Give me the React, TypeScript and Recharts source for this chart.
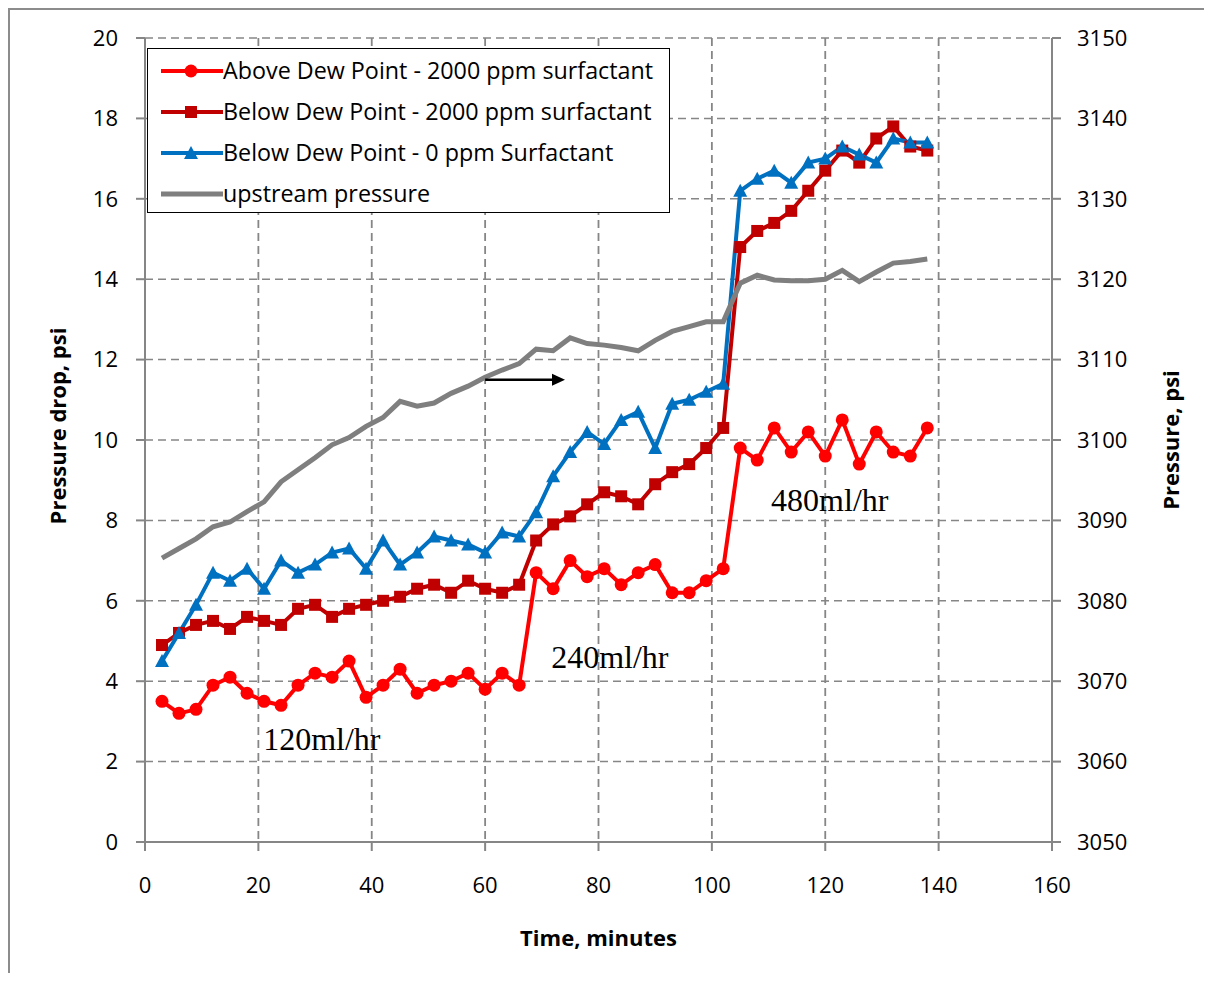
import React from "react";
import {
  LineChart,
  Line,
  XAxis,
  YAxis,
  CartesianGrid,
  Label,
  ReferenceLine,
  ReferenceDot,
} from "recharts";

const minutes = [
  3, 6, 9, 12, 15, 18, 21, 24, 27, 30, 33, 36, 39, 42, 45, 48, 51, 54, 57, 60, 63, 66,
  69, 72, 75, 78, 81, 84, 87, 90, 93, 96, 99, 102, 105, 108, 111, 114, 117, 120, 123,
  126, 129, 132, 135, 138,
];

const aboveDew2000 = [
  3.5, 3.2, 3.3, 3.9, 4.1, 3.7, 3.5, 3.4, 3.9, 4.2, 4.1, 4.5, 3.6, 3.9, 4.3, 3.7, 3.9, 4.0,
  4.2, 3.8, 4.2, 3.9, 6.7, 6.3, 7.0, 6.6, 6.8, 6.4, 6.7, 6.9, 6.2, 6.2, 6.5, 6.8, 9.8, 9.5,
  10.3, 9.7, 10.2, 9.6, 10.5, 9.4, 10.2, 9.7, 9.6, 10.3,
];

const belowDew2000 = [
  4.9, 5.2, 5.4, 5.5, 5.3, 5.6, 5.5, 5.4, 5.8, 5.9, 5.6, 5.8, 5.9, 6.0, 6.1, 6.3, 6.4, 6.2,
  6.5, 6.3, 6.2, 6.4, 7.5, 7.9, 8.1, 8.4, 8.7, 8.6, 8.4, 8.9, 9.2, 9.4, 9.8, 10.3, 14.8,
  15.2, 15.4, 15.7, 16.2, 16.7, 17.2, 16.9, 17.5, 17.8, 17.3, 17.2,
];

const belowDew0 = [
  4.5, 5.2, 5.9, 6.7, 6.5, 6.8, 6.3, 7.0, 6.7, 6.9, 7.2, 7.3, 6.8, 7.5, 6.9, 7.2, 7.6, 7.5,
  7.4, 7.2, 7.7, 7.6, 8.2, 9.1, 9.7, 10.2, 9.9, 10.5, 10.7, 9.8, 10.9, 11.0, 11.2, 11.4,
  16.2, 16.5, 16.7, 16.4, 16.9, 17.0, 17.3, 17.1, 16.9, 17.5, 17.4, 17.4,
];

const upstreamPressure = [
  3085.3, 3086.5, 3087.7, 3089.2, 3089.8, 3091.1, 3092.3, 3094.8, 3096.3, 3097.8, 3099.4,
  3100.3, 3101.7, 3102.8, 3104.8, 3104.2, 3104.6, 3105.8, 3106.7, 3107.8, 3108.7, 3109.5,
  3111.3, 3111.1, 3112.7, 3112.0, 3111.8, 3111.5, 3111.1, 3112.4, 3113.5, 3114.1, 3114.7,
  3114.7, 3119.5, 3120.5, 3119.9, 3119.8, 3119.8, 3120.0, 3121.1, 3119.7, 3120.9, 3122.0,
  3122.2, 3122.5,
];

const xTicks = [0, 20, 40, 60, 80, 100, 120, 140, 160];
const leftTicks = [0, 2, 4, 6, 8, 10, 12, 14, 16, 18, 20];
const rightTicks = [3050, 3060, 3070, 3080, 3090, 3100, 3110, 3120, 3130, 3140, 3150];

const rateNotes = [
  { x: 31.2, y: 2.55, text: "120ml/hr" },
  { x: 82, y: 4.6, text: "240ml/hr" },
  { x: 120.8, y: 8.5, text: "480ml/hr" },
];

const RED = "#FF0000";
const DARK_RED = "#C00000";
const BLUE = "#0070C0";
const GRAY = "#7F7F7F";
const AXIS = "#868686";
const FONT = '"Open Sans", sans-serif';

const data = minutes.map((t, i) => ({
  t,
  above: aboveDew2000[i],
  below2000: belowDew2000[i],
  below0: belowDew0[i],
  upstream: upstreamPressure[i],
}));

const circleDot = (p: any) =>
  p.cx == null ? null : (
    <circle key={`c-${p.index}`} cx={p.cx} cy={p.cy} r={6.5} fill={RED} />
  );

const squareDot = (p: any) =>
  p.cx == null ? null : (
    <rect key={`s-${p.index}`} x={p.cx - 6} y={p.cy - 6} width={12} height={12} fill={DARK_RED} />
  );

const triangleDot = (p: any) =>
  p.cx == null ? null : (
    <polygon
      key={`t-${p.index}`}
      points={`${p.cx},${p.cy - 7} ${p.cx + 7},${p.cy + 6} ${p.cx - 7},${p.cy + 6}`}
      fill={BLUE}
    />
  );

const legendItems = [
  { label: "Above Dew Point - 2000 ppm surfactant", color: RED, marker: "circle" },
  { label: "Below Dew Point - 2000 ppm surfactant", color: DARK_RED, marker: "square" },
  { label: "Below Dew Point - 0 ppm Surfactant", color: BLUE, marker: "triangle" },
  { label: "upstream pressure", color: GRAY, marker: "none" },
];

const ChartLegend = () => (
  <div
    style={{
      position: "absolute",
      left: 141,
      top: 40,
      border: "1.5px solid #000",
      background: "#fff",
      width: 523,
      height: 165,
      boxSizing: "border-box",
      paddingTop: 1,
      fontFamily: FONT,
      fontSize: 23.3,
      color: "#000",
    }}
  >
    {legendItems.map((item) => (
      <div key={item.label} style={{ display: "flex", alignItems: "center", height: 41 }}>
        <svg width={75} height={20} style={{ flex: "none" }}>
          <line x1={13} y1={10} x2={75} y2={10} stroke={item.color} strokeWidth={item.marker === "none" ? 5 : 4} />
          {item.marker === "circle" && <circle cx={43} cy={10} r={6.5} fill={item.color} />}
          {item.marker === "square" && <rect x={37} y={4} width={12} height={12} fill={item.color} />}
          {item.marker === "triangle" && <polygon points="43,3 50,16 36,16" fill={item.color} />}
        </svg>
        <span style={{ whiteSpace: "nowrap", lineHeight: "41px" }}>{item.label}</span>
      </div>
    ))}
  </div>
);

const tickStyle = { fill: "#000", fontSize: 22, fontFamily: FONT };

const axisTitle = (text: string, dx: number, y: number, rotate: boolean) => (p: any) => {
  const vb = p.viewBox;
  const x = rotate ? vb.x + dx : vb.x + vb.width / 2;
  const yy = rotate ? y : vb.y + y;
  return (
    <text
      x={x}
      y={yy}
      transform={rotate ? `rotate(-90, ${x}, ${yy})` : undefined}
      textAnchor="middle"
      dominantBaseline="central"
      fontFamily={FONT}
      fontWeight="bold"
      fontSize={22}
      fill="#000"
    >
      {text}
    </text>
  );
};

export default function App() {
  return (
    <div style={{ position: "relative", width: 1206, height: 965, marginLeft: -2 }}>
      <div style={{ position: "absolute", left: 0, top: 0 }}>
        <LineChart
          width={1206}
          height={965}
          data={data}
          margin={{ top: 30, right: 0, bottom: 0, left: 0 }}
        >
          <CartesianGrid vertical={false} stroke={AXIS} strokeWidth={1.5} strokeDasharray="8 5" />
          <CartesianGrid horizontal={false} stroke={AXIS} strokeWidth={1.8} strokeDasharray="8 5" />
          <XAxis
            dataKey="t"
            type="number"
            domain={[0, 160]}
            ticks={xTicks}
            height={131}
            tickSize={9}
            tickMargin={26}
            tick={tickStyle}
            tickLine={{ stroke: AXIS, strokeWidth: 2 }}
            axisLine={{ stroke: AXIS, strokeWidth: 2 }}
          >
            <Label content={axisTitle("Time, minutes", 0, 95, false)} />
          </XAxis>
          <YAxis
            domain={[0, 20]}
            ticks={leftTicks}
            width={139}
            tickSize={9}
            tickMargin={18}
            tick={tickStyle}
            tickLine={{ stroke: AXIS, strokeWidth: 2 }}
            axisLine={{ stroke: AXIS, strokeWidth: 2 }}
          >
            <Label content={axisTitle("Pressure drop, psi", 51, 418, true)} />
          </YAxis>
          <YAxis
            yAxisId="right"
            orientation="right"
            domain={[3050, 3150]}
            ticks={rightTicks}
            width={160}
            tickSize={9}
            tickMargin={16}
            tick={tickStyle}
            tickLine={{ stroke: AXIS, strokeWidth: 2 }}
            axisLine={{ stroke: AXIS, strokeWidth: 2 }}
          >
            <Label content={axisTitle("Pressure, psi", 118, 432, true)} />
          </YAxis>
          <Line dataKey="above" stroke={RED} strokeWidth={4} dot={circleDot} isAnimationActive={false} />
          <Line dataKey="below2000" stroke={DARK_RED} strokeWidth={4} dot={squareDot} isAnimationActive={false} />
          <Line dataKey="below0" stroke={BLUE} strokeWidth={4} dot={triangleDot} isAnimationActive={false} />
          <Line
            yAxisId="right"
            dataKey="upstream"
            stroke={GRAY}
            strokeWidth={5}
            dot={false}
            isAnimationActive={false}
          />
          <ReferenceLine
            segment={[
              { x: 60, y: 11.5 },
              { x: 72, y: 11.5 },
            ]}
            stroke="#000"
            strokeWidth={2.5}
          />
          <ReferenceDot
            x={71.8}
            y={11.5}
            r={0}
            shape={(p: any) => (
              <polygon points={`${p.cx},${p.cy - 6} ${p.cx + 13},${p.cy} ${p.cx},${p.cy + 6}`} fill="#000" />
            )}
          />
          {rateNotes.map((n) => (
            <ReferenceDot
              key={n.text}
              x={n.x}
              y={n.y}
              r={0}
              shape={(p: any) => (
                <text
                  x={p.cx}
                  y={p.cy}
                  textAnchor="middle"
                  dominantBaseline="central"
                  fontFamily='"Liberation Serif", serif'
                  fontSize={32}
                  fill="#000"
                >
                  {n.text}
                </text>
              )}
            />
          ))}
        </LineChart>
      </div>
      <ChartLegend />
      <div
        style={{
          position: "absolute",
          left: 0,
          top: 0,
          width: 1206,
          height: 2,
          background: "#8c8c8c",
          pointerEvents: "none",
        }}
      />
      <div
        style={{
          position: "absolute",
          left: 2,
          top: 0,
          width: 2,
          height: 965,
          background: "#8c8c8c",
          pointerEvents: "none",
        }}
      />
    </div>
  );
}
